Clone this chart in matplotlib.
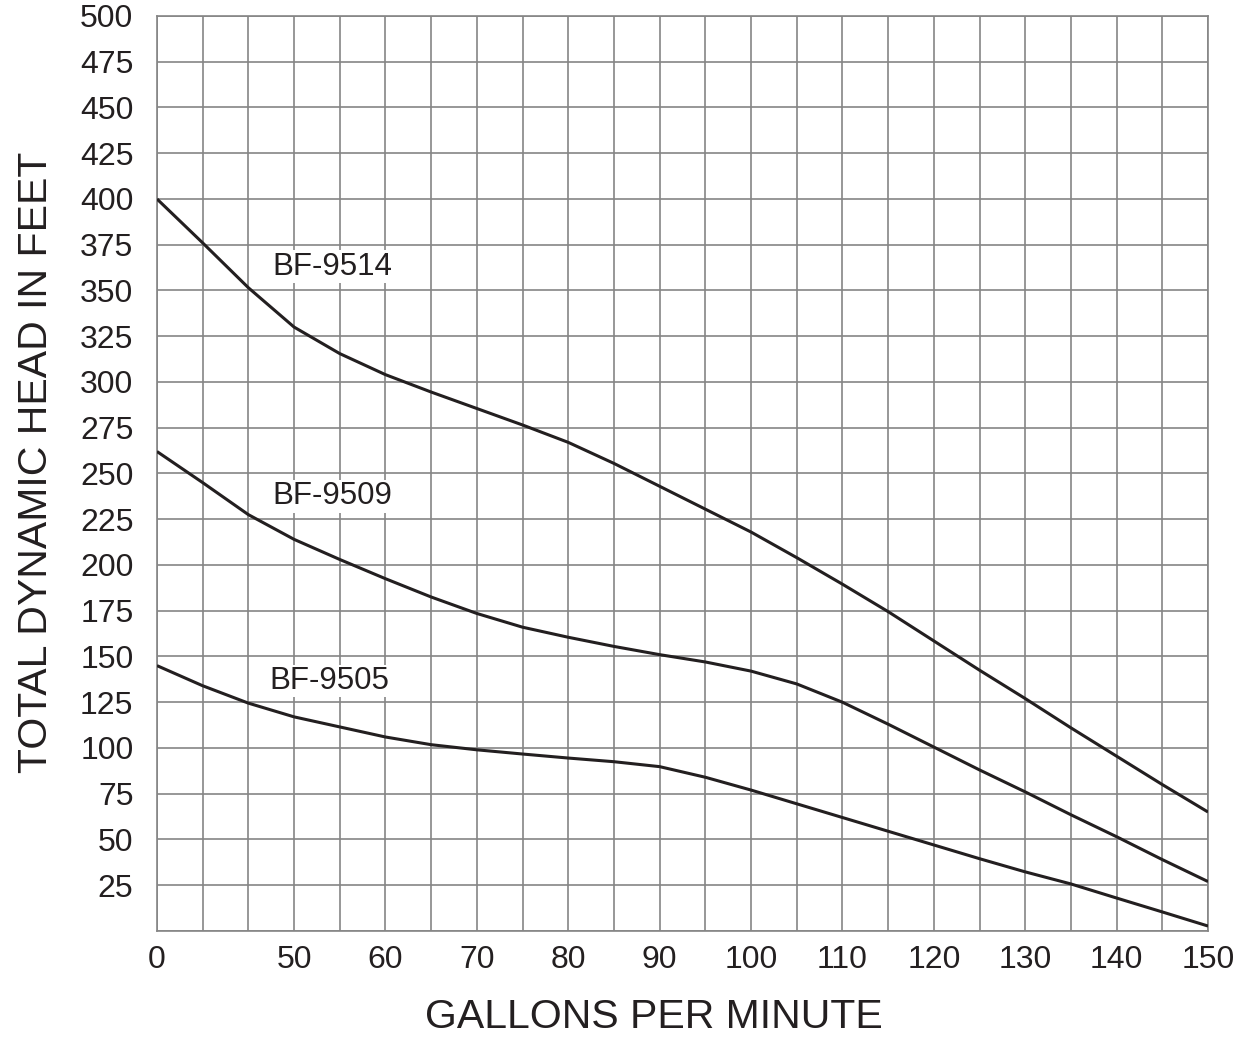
import matplotlib
matplotlib.use("Agg")
import matplotlib.pyplot as plt

plt.rcParams['font.family'] = ['Liberation Sans', 'DejaVu Sans']

# Flow positions (gpm); the left edge of the chart (35) is labelled "0" (broken axis)
gpm = [35, 40, 45, 50, 55, 60, 65, 70, 75, 80, 85, 90, 95, 100, 105, 110,
       115, 120, 125, 130, 135, 140, 145, 150]

bf9514 = [400, 376, 351.5, 330, 315.5, 304, 294.5, 285.5, 276.5, 267, 255.5, 243, 230.5, 218,
          204, 189.5, 174.5, 158.5, 142.5, 127, 111, 95.5, 80, 65]
bf9509 = [262, 245, 227.5, 214, 203, 192.5, 182.5, 173.5, 166, 160.5, 155.5, 151, 147, 142,
          135, 125, 113, 100.5, 88, 76, 63.5, 51.5, 39, 27]
bf9505 = [145, 134, 124.5, 117, 111.5, 106, 101.8, 99, 96.7, 94.5, 92.5, 89.8, 84, 77,
          69.5, 62, 54.5, 47, 39.5, 32.3, 25.7, 18, 10.4, 2.7]

series = [("BF-9514", bf9514, (47.6, 363)),
          ("BF-9509", bf9509, (47.6, 237.5)),
          ("BF-9505", bf9505, (47.3, 136.5))]

xtick_pos = [35, 50, 60, 70, 80, 90, 100, 110, 120, 130, 140, 150]
xtick_labels = ["0", "50", "60", "70", "80", "90", "100", "110", "120", "130", "140", "150"]
ytick_pos = list(range(25, 501, 25))
ytick_labels = [str(v) for v in ytick_pos]

W, H = 1249, 1038
fig = plt.figure(figsize=(W / 100, H / 100), dpi=100)
ax = fig.add_axes([0.1257, 0.1031, 0.8415, 0.8815])

grid_color = "#858585"
ax.set_xlim(35, 150)
ax.set_ylim(0, 500)
for x in range(35, 151, 5):
    ax.axvline(x, color=grid_color, lw=1.2, zorder=1)
for y in range(0, 501, 25):
    ax.axhline(y, color=grid_color, lw=1.2, zorder=1)

for s in ax.spines.values():
    s.set_color(grid_color)
    s.set_linewidth(1.2)

line_color = "#231f20"
for name, vals, (lx, ly) in series:
    ax.plot(gpm, vals, color=line_color, lw=2.2, zorder=3,
            solid_joinstyle='round', solid_capstyle='butt')
    ax.text(lx, ly, name, fontsize=22.5, color=line_color, ha='left', va='center', zorder=4,
            bbox=dict(facecolor='white', edgecolor='none', pad=1.0))

ax.set_xticks(xtick_pos)
ax.set_xticklabels(xtick_labels)
ax.set_yticks(ytick_pos)
ax.set_yticklabels(ytick_labels)
ax.tick_params(axis='both', length=0, labelsize=23, colors=line_color)
ax.tick_params(axis='x', pad=10)
ax.tick_params(axis='y', pad=17)

fig.text(654 / W, 1 - 1017 / H, "GALLONS PER MINUTE", fontsize=29.5, color=line_color,
         ha='center', va='center')
fig.text(36 / W, 1 - 462 / H, "TOTAL DYNAMIC HEAD IN FEET", fontsize=29.5, color=line_color,
         ha='center', va='center', rotation=90)

fig.savefig("out.png", dpi=100, facecolor='white')
